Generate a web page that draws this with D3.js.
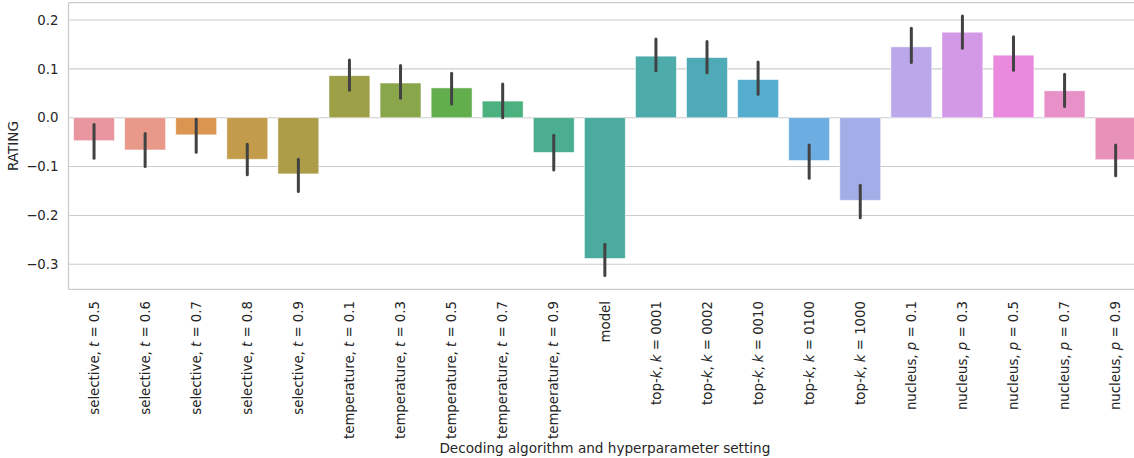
<!DOCTYPE html>
<html>
<head>
<meta charset="utf-8">
<script src="https://cdn.jsdelivr.net/npm/d3@7"></script>
<style>
  html, body { margin: 0; padding: 0; background: #fff; }
  svg { display: block; font-family: "DejaVu Sans", sans-serif; }
</style>
</head>
<body>
<svg id="chart" width="1134" height="458"></svg>
<script>
// ---------------- data ----------------
const categories = [
  "selective, $t$ = 0.5", "selective, $t$ = 0.6", "selective, $t$ = 0.7", "selective, $t$ = 0.8", "selective, $t$ = 0.9",
  "temperature, $t$ = 0.1", "temperature, $t$ = 0.3", "temperature, $t$ = 0.5", "temperature, $t$ = 0.7", "temperature, $t$ = 0.9",
  "model",
  "top-$k$, $k$ = 0001", "top-$k$, $k$ = 0002", "top-$k$, $k$ = 0010", "top-$k$, $k$ = 0100", "top-$k$, $k$ = 1000",
  "nucleus, $p$ = 0.1", "nucleus, $p$ = 0.3", "nucleus, $p$ = 0.5", "nucleus, $p$ = 0.7", "nucleus, $p$ = 0.9"
];
const ratingMean = [-0.047, -0.066, -0.035, -0.085, -0.115, 0.086, 0.071, 0.061, 0.034, -0.071, -0.288,
                    0.126, 0.123, 0.078, -0.0875, -0.169, 0.145, 0.175, 0.128, 0.055, -0.086];
const ciLow  = [-0.086, -0.103, -0.074, -0.120, -0.154, 0.053, 0.037, 0.025, -0.003, -0.110, -0.326,
                0.093, 0.089, 0.045, -0.127, -0.208, 0.110, 0.139, 0.094, 0.020, -0.122];
const ciHigh = [-0.011, -0.029, 0.000, -0.051, -0.082, 0.121, 0.110, 0.094, 0.072, -0.033, -0.256,
                0.164, 0.159, 0.117, -0.053, -0.135, 0.186, 0.211, 0.169, 0.092, -0.053];
const yTicks = [-0.3, -0.2, -0.1, 0.0, 0.1, 0.2];
const yLabel = "RATING";
const xLabel = "Decoding algorithm and hyperparameter setting";

// palette (seaborn husl, desaturated)
const palette = [
  "#ea96a1", "#e8998a", "#dc9550", "#c29c4a", "#ad9d48",
  "#9ea047", "#89a74a", "#62ae4d", "#4bb17e", "#4aae8f",
  "#4aab9e", "#4dacaa", "#4faab8", "#55aece", "#6daee2",
  "#a3aee9", "#bba7ea", "#d499e6", "#e98adf", "#e891c8", "#e892b7"
];

// ---------------- layout ----------------
const svg = d3.select("#chart");
const axLeft = 68.5, axRight = 1141.2, axTop = 2.7, axBottom = 289.3;
const textColor = "#262626", gridColor = "#cccccc";
const fontSize = 13.6, tickFontSize = 13.3;

const x = d3.scaleBand().domain(categories).range([axLeft, axRight]).paddingInner(0.2).paddingOuter(0.1);
const y = d3.scaleLinear().domain([-0.3512, 0.2354]).range([axBottom, axTop]);
const color = d3.scaleOrdinal().domain(categories).range(palette);

// grid
svg.append("g").selectAll("line").data(yTicks).join("line")
  .attr("x1", axLeft).attr("x2", axRight)
  .attr("y1", d => y(d)).attr("y2", d => y(d))
  .attr("stroke", gridColor).attr("stroke-width", 1.1);

// bars
svg.append("g").selectAll("rect").data(categories).join("rect")
  .attr("x", d => x(d))
  .attr("width", x.bandwidth())
  .attr("y", (d, i) => Math.min(y(ratingMean[i]), y(0)))
  .attr("height", (d, i) => Math.abs(y(ratingMean[i]) - y(0)))
  .attr("fill", d => color(d))
  .attr("stroke", "#ffffff").attr("stroke-opacity", 0.6).attr("stroke-width", 0.8);

// error bars
svg.append("g").selectAll("line").data(categories).join("line")
  .attr("x1", d => x(d) + x.bandwidth() / 2)
  .attr("x2", d => x(d) + x.bandwidth() / 2)
  .attr("y1", (d, i) => y(ciLow[i]) - 1.5)
  .attr("y2", (d, i) => y(ciHigh[i]) + 1.5)
  .attr("stroke", "#424242").attr("stroke-width", 3).attr("stroke-linecap", "round");

// spines
const sp = svg.append("g").attr("stroke", gridColor).attr("stroke-width", 1.25).attr("fill", "none");
sp.append("line").attr("x1", axLeft).attr("x2", axLeft).attr("y1", axTop).attr("y2", axBottom);
sp.append("line").attr("x1", axLeft).attr("x2", axRight).attr("y1", axTop).attr("y2", axTop);
sp.append("line").attr("x1", axLeft).attr("x2", axRight).attr("y1", axBottom).attr("y2", axBottom);
sp.append("line").attr("x1", axRight).attr("x2", axRight).attr("y1", axTop).attr("y2", axBottom);

// y axis labels
const fmt = d3.format(".1f");
svg.append("g").selectAll("text").data(yTicks).join("text")
  .attr("x", axLeft - 10).attr("y", d => y(d)).attr("dy", "0.35em")
  .attr("text-anchor", "end").attr("font-size", tickFontSize).attr("fill", textColor)
  .text(d => fmt(d));

// x tick labels (rotated, with italic math symbols)
const xl = svg.append("g").selectAll("text").data(categories).join("text")
  .attr("transform", d => `translate(${x(d) + x.bandwidth() / 2},301) rotate(-90)`)
  .attr("dy", "0.35em").attr("text-anchor", "end")
  .attr("font-size", tickFontSize).attr("fill", textColor);
xl.each(function (d) {
  const parts = d.split("$");
  const t = d3.select(this);
  parts.forEach((p, i) => {
    if (!p) return;
    const s = t.append("tspan").text(p);
    if (i % 2 === 1) s.attr("font-style", "italic");
  });
});

// axis titles
svg.append("text")
  .attr("transform", `translate(18,${(axTop + axBottom) / 2}) rotate(-90)`)
  .attr("text-anchor", "middle").attr("font-size", fontSize).attr("fill", textColor)
  .text(yLabel);
svg.append("text")
  .attr("x", (axLeft + axRight) / 2).attr("y", 453)
  .attr("text-anchor", "middle").attr("font-size", fontSize).attr("fill", textColor)
  .text(xLabel);
</script>
</body>
</html>
